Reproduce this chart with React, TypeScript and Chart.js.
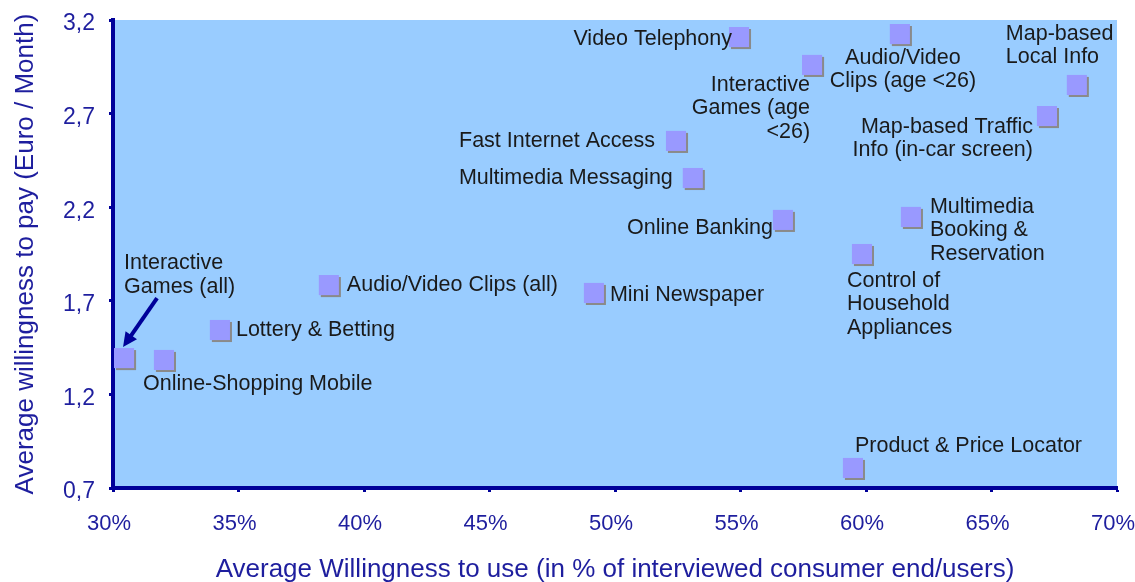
import React, { useEffect, useRef } from "react";
import { Chart, registerables } from "chart.js";

Chart.register(...registerables);

// ---------- data ----------
const serviceNames: string[] = [
  "Interactive Games (all)",
  "Online-Shopping Mobile",
  "Lottery & Betting",
  "Audio/Video Clips (all)",
  "Mini Newspaper",
  "Fast Internet Access",
  "Multimedia Messaging",
  "Online Banking",
  "Video Telephony",
  "Interactive Games (age <26)",
  "Audio/Video Clips (age <26)",
  "Map-based Local Info",
  "Map-based Traffic Info (in-car screen)",
  "Multimedia Booking & Reservation",
  "Control of Household Appliances",
  "Product & Price Locator",
];

// Average willingness to use (% of interviewed consumer end/users)
const willingnessToUse: number[] = [
  30.44, 32.03, 34.26, 38.6, 49.16, 52.43, 53.1, 56.69, 54.94, 57.85, 61.35,
  68.4, 67.21, 61.79, 59.84, 59.48,
];

// Average willingness to pay (Euro / Month)
const willingnessToPay: number[] = [
  1.394, 1.384, 1.544, 1.784, 1.742, 2.554, 2.356, 2.132, 3.109, 2.96, 3.125,
  2.853, 2.687, 2.148, 1.95, 0.807,
];

// Text of each point label (line by line)
const pointLabelLines: string[][] = [
  ["Interactive", "Games (all)"],
  ["Online-Shopping Mobile"],
  ["Lottery & Betting"],
  ["Audio/Video Clips (all)"],
  ["Mini Newspaper"],
  ["Fast Internet Access"],
  ["Multimedia Messaging"],
  ["Online Banking"],
  ["Video Telephony"],
  ["Interactive", "Games (age", "<26)"],
  ["Audio/Video", "Clips (age <26)"],
  ["Map-based", "Local Info"],
  ["Map-based Traffic", "Info (in-car screen)"],
  ["Multimedia", "Booking &", "Reservation"],
  ["Control of", "Household", "Appliances"],
  ["Product & Price Locator"],
];

const xTickValues: number[] = [30, 35, 40, 45, 50, 55, 60, 65, 70];
const yTickValues: number[] = [0.7, 1.2, 1.7, 2.2, 2.7, 3.2];

const xAxisTitle = "Average Willingness to use (in % of interviewed consumer end/users)";
const yAxisTitle = "Average willingness to pay (Euro / Month)";

// ---------- label placement (pixel offsets from each point) ----------
type Placement = { dx: number; dy: number; align: CanvasTextAlign; arrow?: number[] };
const labelPlacement: Placement[] = [
  { dx: 0, dy: -95, align: "left", arrow: [33, -60, -1, -11] },
  { dx: -21, dy: 24, align: "left" },
  { dx: 16, dy: 0, align: "left" },
  { dx: 18, dy: 0, align: "left" },
  { dx: 16, dy: 2, align: "left" },
  { dx: -21, dy: 0, align: "right" },
  { dx: -20, dy: 0, align: "right" },
  { dx: -10, dy: 8, align: "right" },
  { dx: -7, dy: 2, align: "right" },
  { dx: -2, dy: 20, align: "right" },
  { dx: 3, dy: 24, align: "center" },
  { dx: -71, dy: -51, align: "left" },
  { dx: -14, dy: 11, align: "right" },
  { dx: 19, dy: -10, align: "left" },
  { dx: -15, dy: 27, align: "left" },
  { dx: 2, dy: -22, align: "left" },
];

const NAVY = "#000099";
const AXIS_TEXT = "#1E1E9E";
const FONT = "'Liberation Sans', Arial, sans-serif";

const plotBackground = {
  id: "plotBackground",
  beforeDraw(chart: any) {
    const { ctx, chartArea } = chart;
    ctx.save();
    ctx.fillStyle = "#99CCFF";
    ctx.fillRect(chartArea.left, chartArea.top, chartArea.right - chartArea.left, chartArea.bottom - chartArea.top);
    ctx.restore();
  },
};

const pointShadow = {
  id: "pointShadow",
  beforeDatasetDraw(chart: any) {
    const ctx = chart.ctx;
    ctx.save();
    ctx.shadowColor = "#8a8a8a";
    ctx.shadowOffsetX = 2;
    ctx.shadowOffsetY = 2;
    ctx.shadowBlur = 0;
  },
  afterDatasetDraw(chart: any) {
    chart.ctx.restore();
  },
};

const pointLabels = {
  id: "pointLabels",
  afterDatasetsDraw(chart: any) {
    const { ctx } = chart;
    const meta = chart.getDatasetMeta(0);
    ctx.save();
    ctx.font = `21.5px ${FONT}`;
    ctx.fillStyle = "#1a1a1a";
    ctx.textBaseline = "middle";
    const lineH = 23.5;
    meta.data.forEach((el: any, i: number) => {
      const p = labelPlacement[i];
      const lines = pointLabelLines[i];
      if (!p || !lines) return;
      ctx.textAlign = p.align;
      lines.forEach((ln, j) => {
        ctx.fillText(ln, el.x + p.dx, el.y + p.dy + j * lineH);
      });
      if (p.arrow) {
        const [tx, ty, hx, hy] = p.arrow;
        const x0 = el.x + tx, y0 = el.y + ty, x1 = el.x + hx, y1 = el.y + hy;
        const ang = Math.atan2(y1 - y0, x1 - x0);
        const head = 16;
        const bx = x1 - Math.cos(ang) * head * 0.8;
        const by = y1 - Math.sin(ang) * head * 0.8;
        ctx.strokeStyle = NAVY;
        ctx.fillStyle = NAVY;
        ctx.lineWidth = 4;
        ctx.beginPath();
        ctx.moveTo(x0, y0);
        ctx.lineTo(bx, by);
        ctx.stroke();
        ctx.beginPath();
        ctx.moveTo(x1, y1);
        ctx.lineTo(x1 - head * Math.cos(ang - 0.45), y1 - head * Math.sin(ang - 0.45));
        ctx.lineTo(x1 - head * Math.cos(ang + 0.45), y1 - head * Math.sin(ang + 0.45));
        ctx.closePath();
        ctx.fill();
        ctx.fillStyle = "#1a1a1a";
      }
    });
    ctx.restore();
  },
};

export default function App() {
  const canvasRef = useRef<HTMLCanvasElement | null>(null);

  useEffect(() => {
    document.body.style.margin = "0";
    const canvas = canvasRef.current;
    if (!canvas) return;
    const chart = new Chart(canvas, {
      type: "scatter",
      data: {
        datasets: [
          {
            label: "Services",
            data: willingnessToUse.map((x, i) => ({ x, y: willingnessToPay[i] })),
            pointStyle: "rect",
            pointRadius: 14.2,
            pointHoverRadius: 14.2,
            backgroundColor: "#9999FF",
            borderWidth: 0,
            borderColor: "#9999FF",
          },
        ],
      },
      options: {
        animation: false,
        responsive: true,
        maintainAspectRatio: false,
        events: [],
        layout: { padding: { top: 20, right: 18, left: 0, bottom: 0 } },
        plugins: {
          legend: { display: false },
          tooltip: { enabled: false },
        },
        scales: {
          x: {
            type: "linear",
            min: 30,
            max: 70,
            afterFit: (s: any) => {
              s.height = 94;
              s.paddingLeft = 0;
              s.paddingRight = 0;
            },
            afterBuildTicks: (s: any) => {
              s.ticks = xTickValues.map((v) => ({ value: v }));
            },
            grid: { display: true, drawOnChartArea: false, drawTicks: true, tickLength: 4, color: NAVY, tickWidth: 3 },
            border: { display: true, color: NAVY, width: 4 },
            ticks: {
              color: AXIS_TEXT,
              font: { family: FONT, size: 22 },
              padding: 19,
              labelOffset: -4,
              maxRotation: 0,
              callback: (v: any) => `${v}%`,
            },
            title: {
              display: true,
              text: xAxisTitle,
              color: AXIS_TEXT,
              font: { family: FONT, size: 26, lineHeight: 0.9 },
              padding: { top: 0, bottom: 0 },
            },
          },
          y: {
            type: "linear",
            min: 0.7,
            max: 3.2,
            afterFit: (s: any) => {
              s.width = 113;
              s.paddingTop = 0;
              s.paddingBottom = 0;
            },
            afterBuildTicks: (s: any) => {
              s.ticks = yTickValues.map((v) => ({ value: v }));
            },
            grid: { display: true, drawOnChartArea: false, drawTicks: true, tickLength: 4, color: NAVY, tickWidth: 3 },
            border: { display: true, color: NAVY, width: 4 },
            ticks: {
              color: AXIS_TEXT,
              font: { family: FONT, size: 23 },
              padding: 14,
              labelOffset: 4,
              callback: (v: any) => Number(v).toFixed(1).replace(".", ","),
            },
            title: {
              display: true,
              text: yAxisTitle,
              color: AXIS_TEXT,
              font: { family: FONT, size: 26 },
              padding: { top: 10, bottom: 0 },
            },
          },
        },
      },
      plugins: [plotBackground, pointShadow, pointLabels],
    });
    return () => chart.destroy();
  }, []);

  return (
    <div style={{ position: "absolute", left: 0, top: 0, width: 1135, height: 582, background: "#ffffff" }}>
      <canvas ref={canvasRef} />
    </div>
  );
}
